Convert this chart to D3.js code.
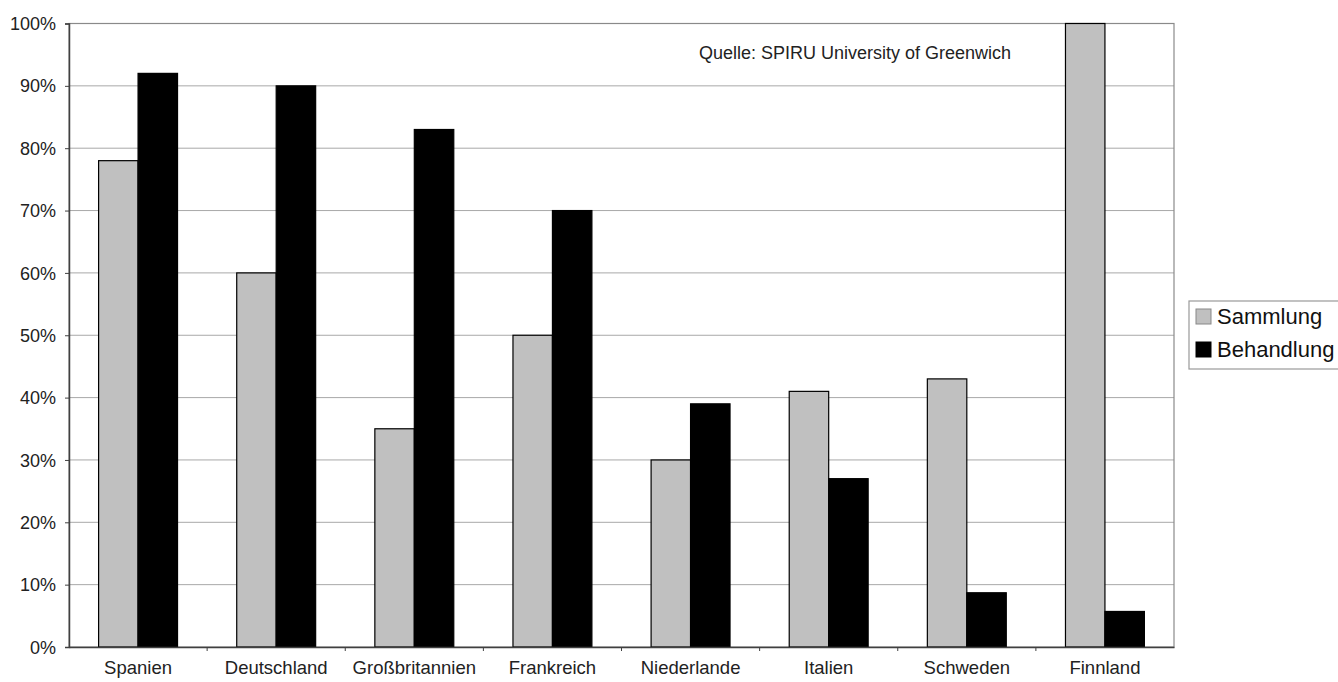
<!DOCTYPE html>
<html><head><meta charset="utf-8">
<script src="https://cdn.jsdelivr.net/npm/d3@7"></script>
<style>body{margin:0;background:#fff;} svg{display:block;font-family:"Liberation Sans",Arial,sans-serif;}</style>
</head><body><svg id="c" width="1338" height="682"></svg>
<script>
const categories = ["Spanien","Deutschland","Großbritannien","Frankreich","Niederlande","Italien","Schweden","Finnland"];
const seriesNames = ["Sammlung","Behandlung"];
const sammlung = [78,60,35,50,30,41,43,100];
const behandlung = [92,90,83,70,39,27,8.7,5.7];
const yTicks = [0,10,20,30,40,50,60,70,80,90,100];
const colors = ["#c0c0c0","#000000"];

const svg = d3.select("#c");
const L=69, R=1174, T=23.5, B=647;
const x = d3.scaleBand().domain(categories).range([L,R]).paddingInner(0).paddingOuter(0);
const y = d3.scaleLinear().domain([0,100]).range([B,T]);
const inner = d3.scaleBand().domain(seriesNames).range([0,x.bandwidth()]).paddingOuter(0.75).paddingInner(0);
const FONT = "Liberation Sans, Arial, sans-serif";

// gridlines
svg.append("g").selectAll("line").data(yTicks.filter(d=>d>0)).join("line")
  .attr("x1",L).attr("x2",R).attr("y1",d=>y(d)).attr("y2",d=>y(d))
  .attr("stroke","#a8a8a8").attr("stroke-width",1);
// frame
svg.append("rect").attr("x",L).attr("y",T).attr("width",R-L).attr("height",B-T)
  .attr("fill","none").attr("stroke","#8a8a8a").attr("stroke-width",1.2);

const data = [sammlung, behandlung];
seriesNames.forEach((s,si)=>{
  svg.append("g").selectAll("rect").data(categories).join("rect")
    .attr("x",c=>x(c)+inner(s))
    .attr("width",inner.bandwidth())
    .attr("y",(c,i)=>y(data[si][i]))
    .attr("height",(c,i)=>B-y(data[si][i]))
    .attr("fill",colors[si]).attr("stroke","#000").attr("stroke-width",1.2);
});

// y axis
const ya = svg.append("g").attr("transform",`translate(${L},0)`)
  .call(d3.axisLeft(y).tickValues(yTicks).tickFormat(d=>d+"%").tickSize(4).tickPadding(9));
ya.select(".domain").attr("stroke","#404040").attr("stroke-width",1.5);
ya.selectAll(".tick line").attr("stroke","#404040");
ya.selectAll("text").attr("font-size",18).attr("fill","#222").attr("font-family",FONT).attr("dy","0.34em");

// x axis
const xa = svg.append("g").attr("transform",`translate(0,${B})`)
  .call(d3.axisBottom(x).tickSize(0).tickPadding(14));
xa.select(".domain").attr("stroke","#404040").attr("stroke-width",1.5);
xa.selectAll("text").attr("font-size",18.5).attr("fill","#222").attr("font-family",FONT).attr("dy","0.7em");
// category separator ticks
svg.append("g").selectAll("line").data(categories.slice(1)).join("line")
  .attr("x1",c=>x(c)).attr("x2",c=>x(c)).attr("y1",B).attr("y2",B+4)
  .attr("stroke","#404040");

// source note
svg.append("text").attr("x",855).attr("y",59).attr("text-anchor","middle")
  .attr("font-size",18).attr("fill","#222").attr("font-family",FONT).text("Quelle: SPIRU University of Greenwich");

// legend
const lg = svg.append("g");
lg.append("rect").attr("x",1189).attr("y",301).attr("width",150).attr("height",68)
  .attr("fill","#fff").attr("stroke","#999").attr("stroke-width",1.2);
seriesNames.forEach((s,i)=>{
  const base = 324 + i*33;
  lg.append("rect").attr("x",1196).attr("y",base-15).attr("width",15).attr("height",15)
    .attr("fill",colors[i]).attr("stroke", i==0?"#888":"#000");
  lg.append("text").attr("x",1217).attr("y",base).attr("font-size",22).attr("fill","#111")
    .attr("font-family",FONT).text(s);
});
</script></body></html>
